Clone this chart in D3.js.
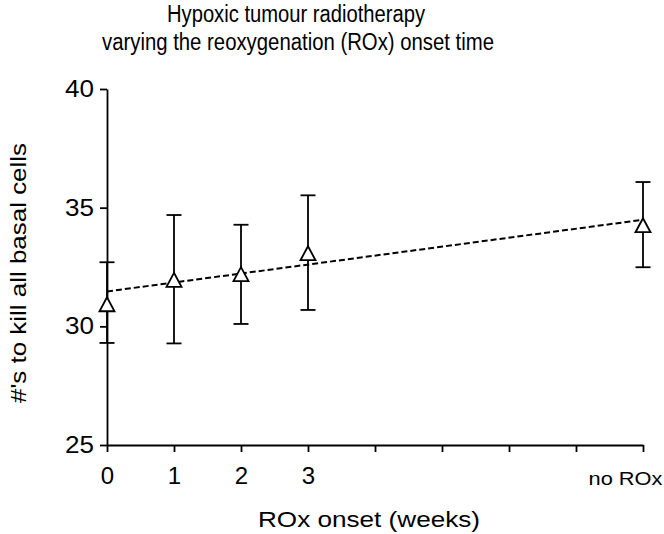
<!DOCTYPE html>
<html><head><meta charset="utf-8">
<script src="https://cdn.jsdelivr.net/npm/d3@7"></script>
<style>body{margin:0;background:#fff}svg{display:block}text{font-family:"Liberation Sans",Arial,sans-serif;fill:#000}</style>
</head><body>
<script>
// Data
const xPositions = [0, 1, 2, 3, 8];
const means = [30.91, 31.94, 32.18, 33.06, 34.24];
const errLow = [29.3, 29.28, 30.1, 30.69, 32.49];
const errHigh = [32.7, 34.69, 34.28, 35.52, 36.08];
const fitX = [0, 8];
const fitY = [31.47, 34.49];
const xTickValues = [0, 1, 2, 3, 4, 5, 6, 7, 8];
const xTickLabels = ["0", "1", "2", "3", "", "", "", "", "no ROx"];
const yTickValues = [25, 30, 35, 40];
const titleLines = ["Hypoxic tumour radiotherapy", "varying the reoxygenation (ROx) onset time"];
const xTitle = "ROx onset (weeks)";
const yTitle = "#'s to kill all basal cells";

const W = 664, H = 534;
const FONT = '"Liberation Sans",Arial,sans-serif';
const svg = d3.select("body").append("svg").attr("width", W).attr("height", H);
const x = d3.scaleLinear().domain([0, 8]).range([107, 643]);
const y = d3.scaleLinear().domain([25, 40]).range([445, 89]);

// axes
const xAxis = svg.append("g").attr("transform", `translate(0,${y(25)})`)
  .call(d3.axisBottom(x).tickValues(xTickValues).tickFormat((d, i) => xTickLabels[i]).tickSize(7).tickSizeOuter(0));
const yAxis = svg.append("g").attr("transform", `translate(${x(0)},0)`)
  .call(d3.axisLeft(y).tickValues(yTickValues).tickSize(7).tickSizeOuter(0));
[xAxis, yAxis].forEach(g => {
  g.selectAll("path,line").attr("stroke", "#000").attr("stroke-width", 1.8);
  g.selectAll("text").style("font-family", FONT).attr("fill", "#000");
});
xAxis.selectAll("text").attr("font-size", 24).attr("dy", null).attr("y", 39);
xAxis.selectAll(".tick").filter(d => d === 8).select("text")
  .attr("font-size", 19).attr("y", 40).attr("x", 19).attr("text-anchor", "end")
  .attr("textLength", 74).attr("lengthAdjust", "spacingAndGlyphs");
yAxis.selectAll("text").attr("font-size", 23.5).attr("x", -13)
  .attr("textLength", 29).attr("lengthAdjust", "spacingAndGlyphs");

// fit line
svg.append("path")
  .datum(fitX.map((d, i) => [d, fitY[i]]))
  .attr("d", d3.line().x(d => x(d[0])).y(d => y(d[1])))
  .attr("fill", "none").attr("stroke", "#000").attr("stroke-width", 2).attr("stroke-dasharray", "6,3");

// error bars
const pts = xPositions.map((d, i) => ({x: d, m: means[i], lo: errLow[i], hi: errHigh[i]}));
const eb = svg.append("g").attr("stroke", "#000").attr("stroke-width", 1.8);
pts.forEach(p => {
  eb.append("line").attr("x1", x(p.x)).attr("x2", x(p.x)).attr("y1", y(p.lo)).attr("y2", y(p.hi));
  [p.lo, p.hi].forEach(v => eb.append("line").attr("x1", x(p.x) - 7.5).attr("x2", x(p.x) + 7.5).attr("y1", y(v)).attr("y2", y(v)));
});

// markers
svg.append("g").selectAll("path").data(pts).join("path")
  .attr("transform", d => `translate(${x(d.x)},${y(d.m)})`)
  .attr("d", "M0,-7.5L7.5,6.5L-7.5,6.5Z")
  .attr("fill", "#fff").attr("stroke", "#000").attr("stroke-width", 1.8).attr("stroke-linejoin", "miter");

// titles
svg.append("text").attr("x", 296).attr("y", 22).attr("text-anchor", "middle").attr("font-size", 23)
  .attr("textLength", 258).attr("lengthAdjust", "spacingAndGlyphs").text(titleLines[0]);
svg.append("text").attr("x", 298).attr("y", 50).attr("text-anchor", "middle").attr("font-size", 23)
  .attr("textLength", 392).attr("lengthAdjust", "spacingAndGlyphs").text(titleLines[1]);
svg.append("text").attr("x", 369).attr("y", 527).attr("text-anchor", "middle").attr("font-size", 21.5)
  .attr("textLength", 222).attr("lengthAdjust", "spacingAndGlyphs").text(xTitle);
svg.append("text").attr("transform", "translate(26,273) rotate(-90)").attr("text-anchor", "middle").attr("font-size", 22.5)
  .attr("textLength", 260).attr("lengthAdjust", "spacingAndGlyphs").text(yTitle);
</script>
</body></html>
